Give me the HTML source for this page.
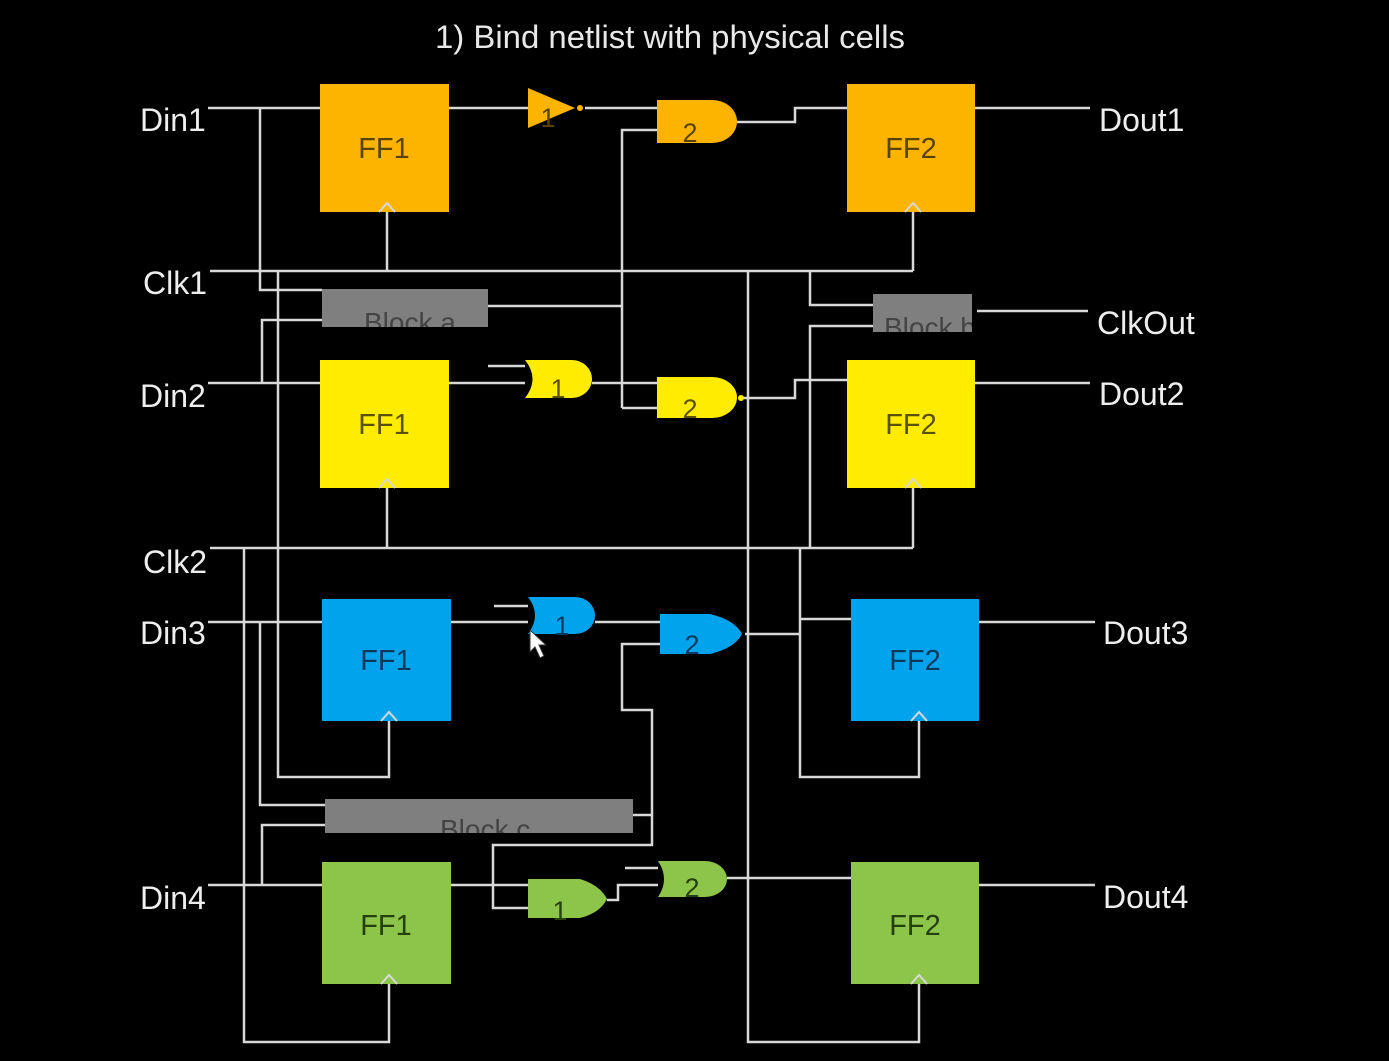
<!DOCTYPE html>
<html><head><meta charset="utf-8"><style>
html,body{margin:0;padding:0;background:#000;}
svg{display:block}
text{font-family:"Liberation Sans",sans-serif;}
</style></head><body>
<svg width="1389" height="1061" viewBox="0 0 1389 1061" xmlns="http://www.w3.org/2000/svg">
<rect width="1389" height="1061" fill="#000"/>
<text x="670" y="48" fill="#e8e8e8" font-size="32" text-anchor="middle" textLength="470" lengthAdjust="spacingAndGlyphs">1) Bind netlist with physical cells</text>
<g fill="#eee" font-size="32">
<text x="140" y="131">Din1</text>
<text x="143" y="294">Clk1</text>
<text x="140" y="407">Din2</text>
<text x="143" y="573">Clk2</text>
<text x="140" y="644">Din3</text>
<text x="140" y="909">Din4</text>
<text x="1099" y="131">Dout1</text>
<text x="1097" y="334">ClkOut</text>
<text x="1099" y="405">Dout2</text>
<text x="1103" y="644">Dout3</text>
<text x="1103" y="908">Dout4</text>
</g>
<g stroke="#d8d8d8" stroke-width="2.5" fill="none">
<path d="M208 108H320 M260 108V290H322 M449 108H528 M585 108H657 M737 122H795V108H847 M975 108H1090"/>
<path d="M210 271H913 M387 212V271 M913 212V271"/>
<path d="M278 271V777H389V721"/>
<path d="M622 408V130H657 M488 306H622 M622 408H657"/>
<path d="M208 383H320 M262 383V320H322 M449 383H525 M488 366H525 M592 383H657 M741 398H795V380H847 M975 383H1090"/>
<path d="M748 271V1042H919V984"/>
<path d="M810 271V305H873 M810 548V326H873 M977 311H1088"/>
<path d="M210 548H913 M387 488V548 M913 488V548"/>
<path d="M244 548V1042H389V984"/>
<path d="M800 548V777H919V721 M800 619H851 M745 634H800 M979 622H1095"/>
<path d="M208 622H322 M260 622V805H325 M451 622H528 M494 606H528 M595 622H660"/>
<path d="M660 644H622V710H652V845H493V908H528 M633 815H652"/>
<path d="M208 885H322 M262 885V825H325 M451 885H528 M607 900H618V885H658 M625 868H658 M727 878H851 M979 885H1095"/>
</g>
<g font-size="29" text-anchor="middle">
<rect x="320" y="84" width="129" height="128" fill="#fdb400"/><text x="384" y="158" fill="#5a4300">FF1</text>
<rect x="847" y="84" width="128" height="128" fill="#fdb400"/><text x="911" y="158" fill="#5a4300">FF2</text>
<rect x="320" y="360" width="129" height="128" fill="#ffec00"/><text x="384" y="434" fill="#5a5200">FF1</text>
<rect x="847" y="360" width="128" height="128" fill="#ffec00"/><text x="911" y="434" fill="#5a5200">FF2</text>
<rect x="322" y="599" width="129" height="122" fill="#00a3ec"/><text x="386" y="670" fill="#083a60">FF1</text>
<rect x="851" y="599" width="128" height="122" fill="#00a3ec"/><text x="915" y="670" fill="#083a60">FF2</text>
<rect x="322" y="862" width="129" height="122" fill="#8dc54a"/><text x="386" y="935" fill="#23400e">FF1</text>
<rect x="851" y="862" width="128" height="122" fill="#8dc54a"/><text x="915" y="935" fill="#23400e">FF2</text>
</g>
<g fill="none" stroke="#d8d8d8" stroke-width="2">
<path d="M379 212L387 203L395 212 M905 212L913 203L921 212 M379 488L387 479L395 488 M905 488L913 479L921 488 M381 721L389 712L397 721 M911 721L919 712L927 721 M381 984L389 975L397 984 M911 984L919 975L927 984"/>
</g>
<g font-size="28" fill="#444">
<rect x="322" y="289" width="166" height="38" fill="#7f7f7f"/><text x="364" y="332">Block a</text>
<rect x="873" y="294" width="104" height="38" fill="#7f7f7f"/><text x="884" y="337">Block b</text>
<rect x="325" y="799" width="308" height="34" fill="#7f7f7f"/><text x="440" y="839">Block c</text>
</g>
<rect x="972" y="290" width="5" height="45" fill="#000"/>
<rect x="320" y="327" width="180" height="20" fill="#000"/>
<rect x="870" y="332" width="120" height="20" fill="#000"/>
<rect x="320" y="833" width="320" height="10" fill="#000"/>
<g font-size="27" text-anchor="middle">
<path d="M528 88L575 108L528 128Z" fill="#fdb400"/><circle cx="580" cy="108" r="3" fill="#fdb400"/>
<text x="548" y="127" fill="#5a4300">1</text>
<path d="M657 100H712A25 21.5 0 0 1 712 143H657Z" fill="#fdb400"/><text x="690" y="142" fill="#5a4300">2</text>
<path d="M525 360H572A20 19 0 0 1 572 398H525Q540 379 525 360Z" fill="#ffec00"/><text x="558" y="398" fill="#5a5200">1</text>
<path d="M657 377H712A25 20.5 0 0 1 712 418H657Z" fill="#ffec00"/><circle cx="741" cy="398" r="3" fill="#ffec00"/><text x="690" y="418" fill="#5a5200">2</text>
<path d="M528 597H575A20 18.5 0 0 1 575 634H528Q542 615 528 597Z" fill="#00a3ec"/><text x="562" y="635" fill="#083a60">1</text>
<path d="M660 614H710Q735 620 742 634Q735 648 710 654H660Z" fill="#00a3ec"/><text x="692" y="654" fill="#083a60">2</text>
<path d="M528 879H580Q600 885 607 899Q600 913 580 918H528Z" fill="#8dc54a"/><text x="560" y="920" fill="#23400e">1</text>
<path d="M658 861H705A22 18 0 0 1 705 897H658Q670 879 658 861Z" fill="#8dc54a"/><text x="692" y="897" fill="#23400e">2</text>
</g>
<path d="M530 630L530 652L535 647L540 658L544 656L539 645L546 645Z" fill="#fff" stroke="#333" stroke-width="1"/>
</svg>
</body></html>
